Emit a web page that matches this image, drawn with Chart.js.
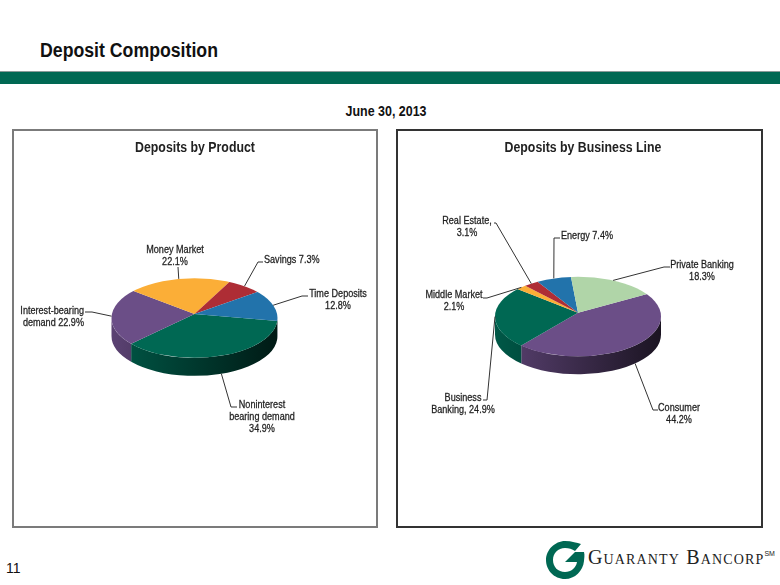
<!DOCTYPE html>
<html>
<head>
<meta charset="utf-8">
<title>Deposit Composition</title>
<script src="https://cdn.jsdelivr.net/npm/chart.js@4"></script>
<style>
    html, body { margin: 0; padding: 0; background: #fff; }
    body { position: relative; width: 780px; height: 585px; overflow: hidden; font-family: "Liberation Sans", Arial, sans-serif; color: #111; }
    .heading { position: absolute; left: 40px; top: 38px; font-size: 20px; line-height: 24px; font-weight: bold; transform: scaleX(0.885); transform-origin: left; white-space: nowrap; }
    .band { position: absolute; left: 0; top: 71px; width: 780px; height: 12px; background: #006853; border-top: 1px solid #8a9a98; }
    .date { position: absolute; left: 286px; width: 200px; top: 103px; text-align: center; font-size: 14px; line-height: 16px; font-weight: bold; transform: scaleX(0.89); }
    .panel { position: absolute; top: 129px; height: 395px; }
    #panelProduct { left: 12px; width: 362px; border: 2px solid #7b7b7b; }
    #panelBusiness { left: 396px; width: 363px; border: 2px solid #333; }
    .panel canvas { display: block; }
    .panel-title { position: absolute; top: 139px; width: 240px; text-align: center; font-size: 14px; line-height: 16px; font-weight: bold; color: #222; transform: scaleX(0.88); white-space: nowrap; }
    .page { position: absolute; left: 6px; top: 560px; font-size: 14px; line-height: 16px; }
    .brand { position: absolute; left: 588px; top: 547px; font-family: "Liberation Serif", serif; font-size: 20px; line-height: 20px; font-variant: small-caps; letter-spacing: 1.15px; color: #222; white-space: nowrap; }
    .brand sup { font-size: 7px; font-family: "Liberation Sans", sans-serif; vertical-align: 8px; line-height: 0; letter-spacing: 0; }
    .mark { position: absolute; left: 545px; top: 540px; }
</style>
</head>
<body>
<div class="heading">Deposit Composition</div>
<div class="band"></div>
<div class="date">June 30, 2013</div>

<div class="panel" id="panelProduct"><canvas id="productChart" width="362" height="395"></canvas></div>
<div class="panel" id="panelBusiness"><canvas id="businessChart" width="363" height="395"></canvas></div>
<div class="panel-title" style="left: 75px">Deposits by Product</div>
<div class="panel-title" style="left: 463px">Deposits by Business Line</div>

<div class="page">11</div>
<svg class="mark" width="40" height="40" viewBox="0 0 40 40">
    <path fill="#006853" d="M20 1 C27 1 32 3 36 4 L30 11 C27 9 24 8 20 8 C13 8 8 13 8 20 C8 27 13 32 20 32 C26 32 31 28 32 22 L20 22 L30 12 L39 12 C40 15 39 19 39 21 C38 31 30 39 20 39 C9 39 1 30 1 20 C1 10 10 1 20 1 Z"/>
</svg>
<div class="brand">Guaranty Bancorp<sup>SM</sup></div>

<script>
// Datos de los graficos
const productLabels = [
    ['Noninterest', 'bearing demand', '34.9%'],
    ['Interest-bearing', 'demand 22.9%'],
    ['Money Market', '22.1%'],
    ['Savings 7.3%'],
    ['Time Deposits', '12.8%']
];
const productValues = [34.9, 22.9, 22.1, 7.3, 12.8];
const productColors = ['#006853', '#6b4e87', '#fbae37', '#ae2d35', '#2273ab'];

const businessLabels = [
    ['Consumer', '44.2%'],
    ['Business', 'Banking, 24.9%'],
    ['Middle Market', '2.1%'],
    ['Real Estate,', '3.1%'],
    ['Energy 7.4%'],
    ['Private Banking', '18.3%']
];
const businessValues = [44.2, 24.9, 2.1, 3.1, 7.4, 18.3];
const businessColors = ['#6b4e87', '#006853', '#fbae37', '#ae2d35', '#2273ab', '#b0d5a8'];

// Posicion de cada etiqueta dentro del panel: texto (x, y primera linea, align) y codos de la linea guia
const productPlacement = [
    { x: 248, y: 273.5, align: 'center', elbow: [[217, 276], [223, 276]] },
    { x: 70, y: 179.5, align: 'right', elbow: [[78, 181], [71, 181]] },
    { x: 161, y: 118.5, align: 'center', elbow: [[164, 136]] },
    { x: 250, y: 128.5, align: 'left', elbow: [[244, 131], [249, 131]] },
    { x: 324, y: 162.5, align: 'center', elbow: [[288, 165], [294, 165]] }
];
const businessPlacement = [
    { x: 281, y: 276.5, align: 'center', elbow: [[255, 279], [260, 279]] },
    { x: 65, y: 266.5, align: 'center', elbow: [[89, 269], [85, 269]] },
    { x: 56, y: 163.5, align: 'center', elbow: [[89, 167], [85, 167]] },
    { x: 69, y: 89.5, align: 'center', elbow: [[98, 92], [96, 92]] },
    { x: 163, y: 104.5, align: 'left', elbow: [[156, 107], [162, 107]] },
    { x: 304, y: 133.5, align: 'center', elbow: [[266, 136], [272, 136]] }
];

const PIE_RADIUS = 83;
const PIE_TILT = 0.48;
const PIE_DEPTH = 18;
const LABEL_FONT = '11.5px "Liberation Sans", Arial, sans-serif';
const LABEL_SQUEEZE = 0.79;

// Oscurece un color hex
function shade(hex, factor) {
    const n = parseInt(hex.slice(1), 16);
    const r = Math.round((n >> 16 & 255) * factor);
    const g = Math.round((n >> 8 & 255) * factor);
    const b = Math.round((n & 255) * factor);
    return `rgb(${r}, ${g}, ${b})`;
}

// Donde corta en el borde de la elipse un radio que sale del vertice (el vertice esta mas arriba que el centro)
function rimAngle(angle, rimY, apexY) {
    const d = (rimY - apexY) / PIE_TILT;
    const along = d * Math.sin(angle);
    const t = along + Math.sqrt(along * along - d * d + PIE_RADIUS * PIE_RADIUS);
    const rim = Math.atan2(t * Math.sin(angle) - d, t * Math.cos(angle));
    let delta = rim - angle;
    delta -= 2 * Math.PI * Math.round(delta / (2 * Math.PI));
    return angle + delta;
}

// Plugin que aplasta el pastel y le dibuja la pared lateral
const tiltedPie = {
    id: 'tiltedPie',
    beforeDatasetsDraw(chart, args, opts) {
        const ctx = chart.ctx;
        const arcs = chart.getDatasetMeta(0).data;
        const colors = chart.data.datasets[0].backgroundColor;
        const cy = opts.rimY;
        const cx = arcs[0].x;
        const r = PIE_RADIUS;

        // Pared lateral, solo la mitad inferior de la elipse
        arcs.forEach((arc, i) => {
            const start = rimAngle(arc.startAngle, cy, opts.apexY);
            const end = rimAngle(arc.endAngle, cy, opts.apexY);
            [0, -2 * Math.PI].forEach(shift => {
                const a = Math.max(start + shift, 0);
                const b = Math.min(end + shift, Math.PI);
                if (b <= a) return;
                const grad = ctx.createLinearGradient(cx - r, 0, cx + r, 0);
                grad.addColorStop(0, shade(colors[i], 0.85));
                grad.addColorStop(1, shade(colors[i], 0.25));
                ctx.beginPath();
                ctx.ellipse(cx, cy, r, r * PIE_TILT, 0, a, b);
                ctx.lineTo(cx + r * Math.cos(b), cy + r * PIE_TILT * Math.sin(b) + PIE_DEPTH);
                ctx.ellipse(cx, cy + PIE_DEPTH, r, r * PIE_TILT, 0, b, a, true);
                ctx.closePath();
                ctx.fillStyle = grad;
                ctx.fill();
            });
        });

        // Cara superior: los arcos salen del vertice y se recortan con la elipse
        ctx.save();
        ctx.beginPath();
        ctx.ellipse(cx, cy, r, r * PIE_TILT, 0, 0, 2 * Math.PI);
        ctx.clip();
        ctx.translate(cx, opts.apexY);
        ctx.scale(1, PIE_TILT);
        ctx.translate(-cx, -arcs[0].y);
    },
    afterDatasetsDraw(chart, args, opts) {
        const ctx = chart.ctx;
        ctx.restore();

        const arcs = chart.getDatasetMeta(0).data;
        ctx.strokeStyle = '#333';
        ctx.fillStyle = '#111';
        ctx.font = LABEL_FONT;
        ctx.textBaseline = 'middle';

        arcs.forEach((arc, i) => {
            const mid = rimAngle((arc.startAngle + arc.endAngle) / 2, opts.rimY, opts.apexY);
            const sin = Math.sin(mid);
            const place = opts.placement[i];

            // Punto de la linea guia sobre el borde del pastel
            let y = opts.rimY + PIE_RADIUS * PIE_TILT * sin;
            if (sin > 0.3) y += PIE_DEPTH;
            ctx.lineWidth = 1;
            ctx.beginPath();
            ctx.moveTo(arc.x + PIE_RADIUS * Math.cos(mid), y);
            place.elbow.forEach(p => ctx.lineTo(p[0], p[1]));
            ctx.stroke();

            // Texto estrecho, la fuente original es condensada
            ctx.textAlign = place.align;
            ctx.lineWidth = 0.3;
            chart.data.labels[i].forEach((line, n) => {
                ctx.save();
                ctx.translate(place.x, place.y + n * 12.2);
                ctx.scale(LABEL_SQUEEZE, 1);
                ctx.fillText(line, 0, 0);
                ctx.strokeText(line, 0, 0);
                ctx.restore();
            });
        });
    }
};

function buildChart(id, labels, values, colors, rotation, rimY, apexY, shiftRight, placement) {
    return new Chart(document.getElementById(id), {
        type: 'pie',
        data: {
            labels: labels,
            datasets: [{
                data: values,
                backgroundColor: colors,
                borderWidth: 0,
                radius: PIE_RADIUS * 1.3
            }]
        },
        options: {
            responsive: false,
            animation: false,
            rotation: rotation,
            layout: { padding: { right: shiftRight } },
            plugins: {
                legend: { display: false },
                tooltip: { enabled: false },
                tiltedPie: { rimY: rimY, apexY: apexY, placement: placement }
            }
        },
        plugins: [tiltedPie]
    });
}

buildChart('productChart', productLabels, productValues, productColors, 100, 187, 183, 1, productPlacement);
buildChart('businessChart', businessLabels, businessValues, businessColors, 60.5, 185.5, 181.7, 3, businessPlacement);
</script>
</body>
</html>
